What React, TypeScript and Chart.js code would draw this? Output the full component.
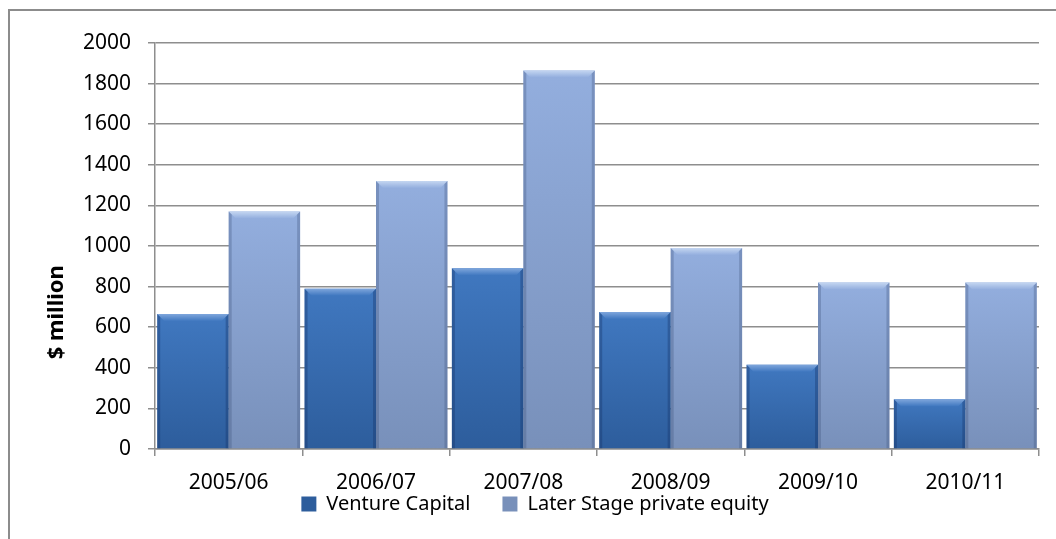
import React, { useEffect, useRef } from "react";
import { Chart, registerables } from "chart.js";

Chart.register(...registerables);

const categories = ["2005/06", "2006/07", "2007/08", "2008/09", "2009/10", "2010/11"];
const ventureCapital = [665, 790, 890, 675, 415, 245];
const laterStagePE = [1170, 1320, 1865, 990, 820, 820];
const seriesNames = ["Venture Capital", "Later Stage private equity"];
const yTitle = "$ million";
const yMin = 0;
const yMax = 2000;
const yStep = 200;

const FONT = "'Noto Sans', 'Open Sans', sans-serif";
const GRID = "#8e8e8e";

type Shade = { base: string; top: string; bottom: string; bevel: string; edge: string };
const vcShade: Shade = { base: "#3A70B6", top: "#4078C0", bottom: "#2D5D9C", bevel: "#7FA6DC", edge: "rgba(20,50,100,0.35)" };
const peShade: Shade = { base: "#8AA5D6", top: "#93AEDE", bottom: "#7890BA", bevel: "#C4D6F1", edge: "rgba(60,80,120,0.30)" };

function barFill(shade: Shade) {
  return (ctx: any) => {
    const chart = ctx.chart;
    const area = chart.chartArea;
    if (!area || ctx.type !== "data") return shade.base;
    const yScale = chart.scales.y;
    const top = yScale.getPixelForValue(ctx.raw);
    const bottom = yScale.getPixelForValue(0);
    if (!isFinite(top) || !isFinite(bottom) || bottom - top < 1) return shade.base;
    const g = chart.ctx.createLinearGradient(0, top, 0, bottom);
    g.addColorStop(0, shade.top);
    g.addColorStop(1, shade.bottom);
    return g;
  };
}

const bevelPlugin = {
  id: "bevel",
  afterDatasetsDraw(chart: any) {
    const ctx = chart.ctx;
    const shades = [vcShade, peShade];
    chart.data.datasets.forEach((_: any, di: number) => {
      const meta = chart.getDatasetMeta(di);
      const shade = shades[di];
      meta.data.forEach((bar: any) => {
        const { x, y, base, width } = bar.getProps(["x", "y", "base", "width"], true);
        const left = x - width / 2;
        const right = x + width / 2;
        const b = 7;
        ctx.save();
        const g = ctx.createLinearGradient(0, y, 0, y + b);
        g.addColorStop(0, shade.bevel);
        g.addColorStop(1, shade.top);
        ctx.fillStyle = g;
        ctx.beginPath();
        ctx.moveTo(left, y);
        ctx.lineTo(right, y);
        ctx.lineTo(right - b, y + b);
        ctx.lineTo(left + b, y + b);
        ctx.closePath();
        ctx.fill();
        ctx.fillStyle = shade.edge;
        ctx.beginPath();
        ctx.moveTo(left, y);
        ctx.lineTo(left + 3, y + 3);
        ctx.lineTo(left + 3, base);
        ctx.lineTo(left, base);
        ctx.closePath();
        ctx.fill();
        ctx.beginPath();
        ctx.moveTo(right, y);
        ctx.lineTo(right - 3, y + 3);
        ctx.lineTo(right - 3, base);
        ctx.lineTo(right, base);
        ctx.closePath();
        ctx.fill();
        ctx.restore();
      });
    });
  },
};

const yTitlePlugin = {
  id: "yTitleCustom",
  afterDraw(chart: any) {
    const { ctx, chartArea } = chart;
    ctx.save();
    ctx.font = `bold 22px ${FONT}`;
    ctx.fillStyle = "#000";
    ctx.textAlign = "center";
    ctx.textBaseline = "middle";
    ctx.translate(47, chartArea.top + (chartArea.bottom - chartArea.top) * 0.663);
    ctx.rotate(-Math.PI / 2);
    ctx.fillText(yTitle, 0, 0);
    ctx.restore();
  },
};

// pull the legend up so that it tucks right under the category labels
const legendShiftPlugin = {
  id: "legendShift",
  afterLayout(chart: any) {
    const lg = chart.legend;
    if (!lg) return;
    const shift = 35;
    lg.top -= shift;
    lg.bottom -= shift;
  },
};

export default function App() {
  const canvasRef = useRef<HTMLCanvasElement | null>(null);

  useEffect(() => {
    const canvas = canvasRef.current;
    if (!canvas) return;
    const chart = new Chart(canvas, {
      type: "bar",
      data: {
        labels: categories,
        datasets: [
          {
            label: seriesNames[0],
            data: ventureCapital,
            backgroundColor: barFill(vcShade) as any,
            borderWidth: 0,
            categoryPercentage: 0.97,
            barPercentage: 1,
          },
          {
            label: seriesNames[1],
            data: laterStagePE,
            backgroundColor: barFill(peShade) as any,
            borderWidth: 0,
            categoryPercentage: 0.97,
            barPercentage: 1,
          },
        ],
      },
      options: {
        animation: false,
        responsive: true,
        maintainAspectRatio: false,
        layout: { padding: { left: 21, right: 17, top: 32, bottom: 0 } },
        plugins: {
          legend: {
            position: "bottom",
            labels: {
              font: { family: FONT, size: 20 },
              color: "#000",
              boxWidth: 15,
              boxHeight: 15,
              padding: 32,
            },
          },
          tooltip: { enabled: false },
          title: { display: false },
        },
        scales: {
          x: {
            grid: {
              offset: true,
              drawOnChartArea: false,
              drawTicks: true,
              tickLength: 7,
              color: GRID,
              lineWidth: 1.5,
            },
            border: { display: true, color: GRID, width: 1.5 },
            ticks: {
              font: { family: FONT, size: 21 },
              color: "#000",
              padding: 14,
              maxRotation: 0,
              autoSkip: false,
            },
            afterFit: (s: any) => {
              s.height = 48;
            },
          },
          y: {
            min: yMin,
            max: yMax,
            ticks: {
              stepSize: yStep,
              font: { family: FONT, size: 21 },
              color: "#000",
              padding: 17,
              callback: (v: any) => String(v),
            },
            grid: { color: GRID, lineWidth: 1.5, tickLength: 7 },
            border: { display: true, color: GRID, width: 1.5 },
            afterFit: (s: any) => {
              s.width = 124;
            },
          },
        },
      },
      plugins: [bevelPlugin, yTitlePlugin, legendShiftPlugin],
    });
    return () => chart.destroy();
  }, []);

  return (
    <div
      style={{
        position: "fixed",
        left: 8,
        top: 9,
        width: 1048,
        height: 530,
        overflow: "hidden",
        boxSizing: "border-box",
        borderTop: "2px solid #8c8c8c",
        borderLeft: "2px solid #8c8c8c",
        background: "#fff",
      }}
    >
      <div style={{ position: "relative", width: 1046, height: 548 }}>
        <canvas ref={canvasRef} />
      </div>
    </div>
  );
}
